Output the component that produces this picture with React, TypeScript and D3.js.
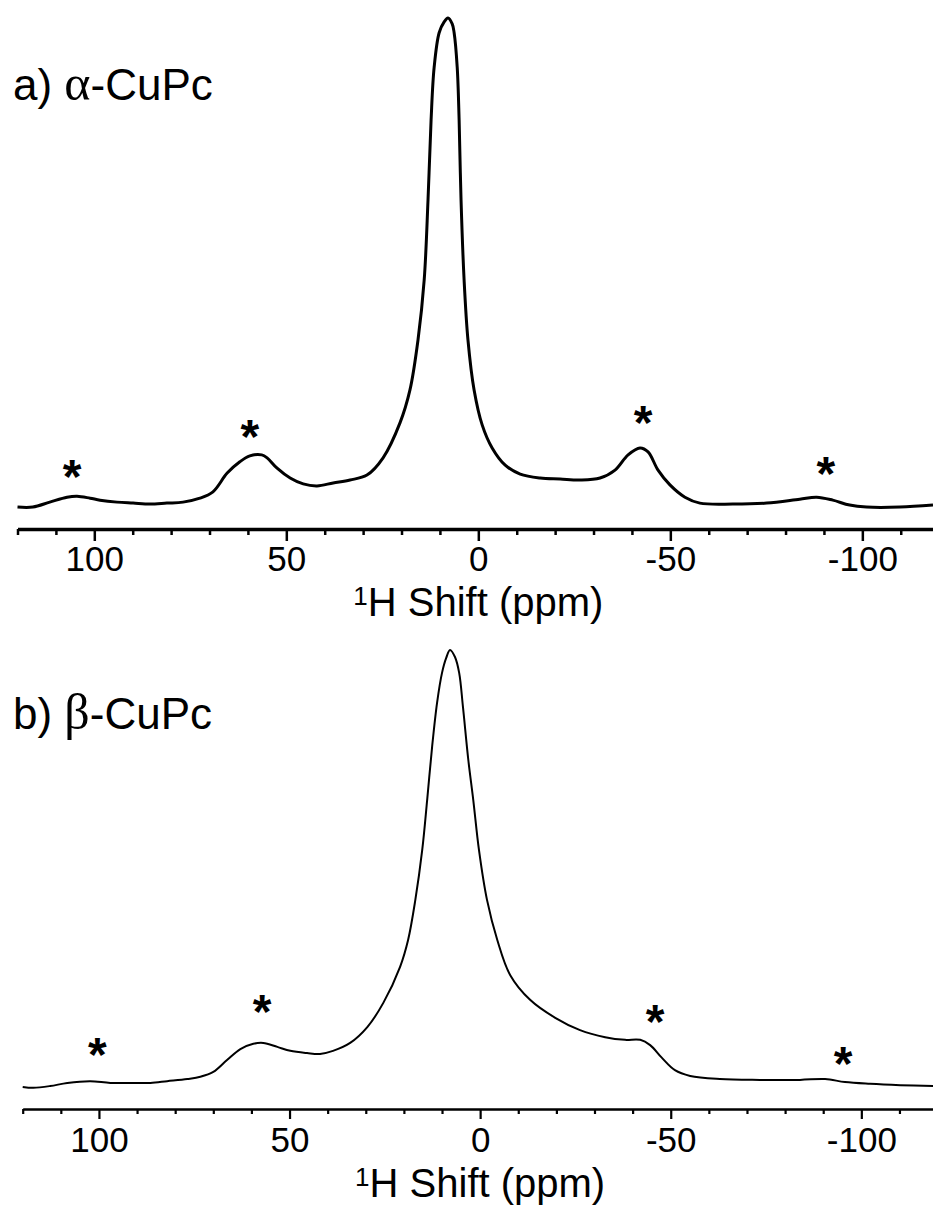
import React, { useEffect, useRef } from 'react';
import * as d3 from 'd3';

const W = 933;
const H = 1208;

// alpha-CuPc trace, [ppm, intensity (peak = 100)]
const alphaSpectrum: [number, number][] = [
  [120, 0.6], [116, 0.6], [111.6, 1.6], [107.1, 2.6], [104.5, 2.8], [101.1, 2.4], [98.5, 2.0],
  [94.1, 1.6], [89.9, 1.4], [85.5, 1.2], [81.1, 1.4], [76.9, 1.6], [72.5, 2.4], [69.1, 3.7],
  [65.4, 7.5], [62.1, 9.8], [59.5, 11.0], [56.4, 11.2], [55.0, 10.6], [52.4, 8.5], [49.0, 6.5],
  [45.6, 5.3], [42.0, 4.9], [37.8, 5.5], [33.4, 6.1], [29.0, 7.1], [24.8, 10.6], [20.4, 17.7],
  [17.8, 24.4], [15.7, 34.6], [14.1, 46.7], [13.1, 63.0], [12.3, 79.3], [11.5, 90.0], [10.2, 97.0],
  [8.9, 99.2], [7.9, 100], [6.8, 98.8], [6.3, 97.0], [5.5, 90.0], [5.0, 79.3], [4.5, 63.0],
  [3.7, 46.7], [2.7, 34.6], [1.1, 24.4], [-1.0, 17.3], [-3.6, 12.6], [-7.0, 9.1], [-10.9, 7.3],
  [-16.1, 6.5], [-21.3, 6.3], [-26.5, 6.1], [-31.7, 6.5], [-35.6, 8.1], [-39.0, 11.2], [-42.1, 12.6],
  [-44.2, 11.8], [-46.8, 8.1], [-49.9, 5.1], [-53.8, 2.6], [-57.7, 1.4], [-66.3, 1.2], [-75.1, 1.4],
  [-83.7, 2.2], [-88.1, 2.6], [-92.3, 2.0], [-96.7, 1.0], [-101.1, 0.6], [-109.8, 0.6], [-118.4, 1.0],
];

// beta-CuPc trace
const betaSpectrum: [number, number][] = [
  [120, 0.7], [117.2, 0.5], [112.8, 0.9], [108.3, 1.6], [102.3, 2.0], [97.0, 1.6], [91.0, 1.6],
  [86.5, 1.6], [82.1, 2.0], [76.8, 2.5], [73.4, 3.0], [70.0, 4.1], [66.4, 6.8], [62.9, 9.3],
  [59.5, 10.5], [56.9, 10.7], [53.2, 9.8], [49.8, 8.9], [45.4, 8.4], [42.0, 8.2], [38.6, 8.9],
  [34.1, 10.7], [29.6, 14.3], [25.4, 19.8], [21.0, 28.0], [18.9, 34.1], [17.0, 43.2], [15.2, 54.5],
  [13.9, 65.9], [12.6, 78.0], [11.3, 88.0], [10.0, 94.8], [8.9, 98.2], [7.9, 100], [6.6, 98.4],
  [5.5, 94.8], [4.5, 87.0], [3.1, 75.0], [1.8, 65.9], [0.3, 54.5], [-1.8, 43.2], [-4.5, 34.1],
  [-7.9, 26.1], [-13.1, 20.5], [-19.7, 16.4], [-26.2, 13.6], [-32.8, 12.0], [-38.0, 11.4],
  [-42.0, 11.4], [-44.6, 10.2], [-47.7, 7.3], [-51.1, 4.5], [-55.1, 3.2], [-62.9, 2.5],
  [-73.4, 2.3], [-83.9, 2.3], [-90.5, 2.5], [-95.7, 1.8], [-102.3, 1.4], [-110.2, 1.1], [-118.8, 0.9],
];

// spinning sideband markers
const alphaStars: [number, number][] = [[105.8, 9.1], [59.5, 17.3], [-42.9, 20.1], [-90.5, 9.8]];
const betaStars: [number, number][] = [[100.4, 10.7], [57.2, 20.5], [-45.9, 18.2], [-95.2, 8.6]];

const majorTicks = [100, 50, 0, -50, -100];
const minorTicks = [120, 110, 90, 80, 70, 60, 40, 30, 20, 10, -10, -20, -30, -40, -60, -70, -80, -90, -110];

const FONT = "'Liberation Sans', Arial, sans-serif";
const SERIF = "'Liberation Serif', 'Times New Roman', serif";

function drawPanel(svg: any, p: any) {
  let x = d3.scaleLinear().domain(p.domain).range([p.left, W]);
  let y = d3.scaleLinear().domain([0, 100]).range([p.base, p.top]);

  let line = d3.line<[number, number]>()
               .x(d => x(d[0]))
               .y(d => y(d[1]))
               .curve(d3.curveCatmullRom.alpha(0.5));

  svg.append('path')
     .datum(p.data)
     .attr('d', line)
     .attr('fill', 'none')
     .attr('stroke', '#000')
     .attr('stroke-width', p.lw)
     .attr('stroke-linejoin', 'round');

  // asterisks
  svg.selectAll(null)
     .data(p.stars)
     .enter()
     .append('text')
     .attr('x', (d: any) => x(d[0]))
     .attr('y', (d: any) => y(d[1]) + 0.58 * 48)
     .attr('text-anchor', 'middle')
     .attr('font-family', FONT)
     .attr('font-weight', 'bold')
     .attr('font-size', 48)
     .text('*');

  // minor ticks
  let gMinor = svg.append('g')
                  .attr('transform', `translate(0,${p.axisY})`)
                  .call(d3.axisBottom(x).tickValues(minorTicks).tickSize(p.minor).tickSizeOuter(0).tickFormat(() => ''));
  gMinor.select('.domain').remove();
  gMinor.selectAll('line').attr('stroke-width', p.tickW);

  // major ticks + labels
  let gMajor = svg.append('g')
                  .attr('transform', `translate(0,${p.axisY})`)
                  .call(d3.axisBottom(x).tickValues(majorTicks).tickSize(p.major).tickSizeOuter(0)
                          .tickPadding(p.pad).tickFormat((d: any) => String(d)));
  gMajor.select('.domain').attr('stroke-width', p.axisW);
  gMajor.selectAll('line').attr('stroke-width', p.tickW);
  gMajor.selectAll('text')
        .attr('font-family', FONT)
        .attr('font-size', 35)
        .attr('fill', '#000');

  // axis title
  let t = svg.append('text')
             .attr('x', x(0))
             .attr('y', p.titleY)
             .attr('text-anchor', 'middle')
             .attr('font-family', FONT)
             .attr('font-size', 40);
  t.append('tspan').attr('font-size', 26).attr('dy', -11).text('1');
  t.append('tspan').attr('dy', 11).text('H Shift (ppm)');

  // panel label
  let lab = svg.append('text')
               .attr('x', 13)
               .attr('y', p.labelY)
               .attr('font-family', FONT)
               .attr('font-size', 44);
  lab.append('tspan').text(p.label[0] + ' ');
  lab.append('tspan').attr('font-family', SERIF).attr('font-size', 50).text(p.label[1]);
  lab.append('tspan').text(p.label[2]);
}

export default function App() {
  const ref = useRef<SVGSVGElement>(null);

  useEffect(() => {
    let svg = d3.select(ref.current);
    svg.selectAll('*').remove();
    svg.append('rect').attr('width', W).attr('height', H).attr('fill', '#fff');

    drawPanel(svg, {
      data: alphaSpectrum, stars: alphaStars, domain: [120, -118.4], left: 17.5,
      base: 510, top: 18, lw: 3, axisY: 529, axisW: 3.5, tickW: 2.5, major: 12, minor: 6, pad: 5,
      titleY: 616, labelY: 100, label: ['a)', 'α', '-CuPc'],
    });
    drawPanel(svg, {
      data: betaSpectrum, stars: betaStars, domain: [120, -118.8], left: 22.7,
      base: 1090, top: 650, lw: 2, axisY: 1109, axisW: 2.5, tickW: 2.2, major: 10, minor: 5, pad: 8,
      titleY: 1197, labelY: 729, label: ['b)', 'β', '-CuPc'],
    });
  }, []);

  return (
    <svg ref={ref} width={W} height={H} style={{ position: 'absolute', left: 0, top: 0, display: 'block' }} />
  );
}
